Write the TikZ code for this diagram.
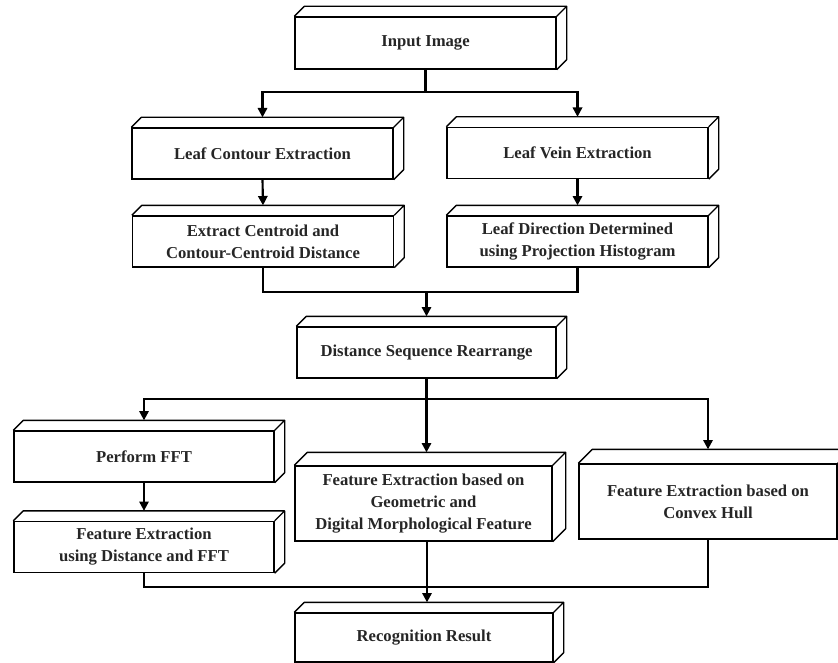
\documentclass[tikz,border=0pt]{standalone}
\usepackage{fontspec}
\setmainfont{Liberation Serif}
\usetikzlibrary{arrows.meta}

\tikzset{every picture/.style={line width=0.75pt}}
\tikzset{
  stage/.style={draw, line width=1pt, rectangle, inner sep=0pt, align=center,
    minimum width=195.75pt, minimum height=38.25pt,
    font=\fontsize{12.5}{16.5}\selectfont\bfseries, text=black!85},
  tallstage/.style={stage, minimum height=56.25pt},
  flowline/.style={line width=1.6pt},
  flowarrow/.style={flowline, -{Triangle[length=7pt,width=7pt]}},
}

\begin{document}
\begin{tikzpicture}[x=0.75pt,y=0.75pt,yscale=-1,xscale=1]
\useasboundingbox (0,0) rectangle (838,663);

% Text Node
\draw (425.5,43) node [stage, minimum height=39pt] (input) {Input Image};
% Text Node
\draw (262.5,153.5) node [stage] (contour) {Leaf Contour Extraction};
% Text Node
\draw (577.5,153) node [stage] (vein) {Leaf Vein Extraction};
% Text Node
\draw (263,241.5) node [stage] (centroid) {Extract Centroid and\\Contour-Centroid Distance};
% Text Node
\draw (577.5,241.5) node [stage] (direction) {Leaf Direction Determined\\using Projection Histogram};
% Text Node
\draw (426.5,352.5) node [stage, minimum width=194.25pt] (rearrange) {Distance Sequence Rearrange};
% Text Node
\draw (144,456.5) node [stage, minimum width=195pt] (fft) {Perform FFT};
% Text Node
\draw (144,547) node [stage, minimum width=195pt] (fftfeat) {Feature Extraction\\using Distance and FFT};
% Text Node
\draw (423.5,503.5) node [tallstage, minimum width=192.75pt] (geom) {Feature Extraction based on\\Geometric and\\Digital Morphological Feature};
% Text Node
\draw (708,501.5) node [tallstage, minimum width=193.5pt] (hull) {Feature Extraction based on\\Convex Hull};
% Text Node
\draw (424,637.5) node [stage, minimum width=193.5pt, minimum height=36.75pt] (recog) {Recognition Result};

%Shape: top and side faces
\foreach \n/\d in {input/10,contour/10,vein/10,centroid/10,direction/10,rearrange/10,fft/10,fftfeat/10,geom/13,hull/14,recog/10}{
  \draw [line width=1pt, line join=round] (\n.north west) -- ++(\d,-\d) -- ([shift={(\d,-\d)}]\n.north east) -- ([shift={(\d,-\d)}]\n.south east) -- (\n.south east) (\n.north east) -- ([shift={(\d,-\d)}]\n.north east);
  \coordinate (\n-top) at ([shift={(0,-\d)}]\n.north);
}

\coordinate (split1) at (425.5,92);
\coordinate (merge1) at (426.5,292);
\coordinate (split2) at (426.5,399);
\coordinate (merge2) at (427,587);

%Straight Lines
\draw [flowline] (input.south) -- (split1);
\draw [flowarrow] (split1) -| (contour-top);
\draw [flowarrow] (split1) -| (vein-top);
%Straight Lines
\draw [flowarrow] (contour.south) -- (centroid-top);
\draw [flowarrow] (vein.south) -- (direction-top);
%Straight Lines
\draw [flowline] (centroid.south) |- (merge1) -| (direction.south);
\draw [flowarrow] (merge1) -- (rearrange-top);
%Straight Lines
\draw [flowline] (rearrange.south) -- (split2);
\draw [flowarrow] (split2) -| (fft-top);
\draw [flowarrow] (split2) -| (hull-top);
\draw [flowarrow] (split2) -- (split2 |- geom-top);
%Straight Lines
\draw [flowarrow] (fft.south) -- (fftfeat-top);
%Straight Lines
\draw [flowline] (fftfeat.south) |- (merge2) -| (hull.south);
\draw [flowline] (merge2 |- geom.south) -- (merge2);
\draw [flowarrow] (merge2) -- (merge2 |- recog-top);

\end{tikzpicture}
\end{document}
